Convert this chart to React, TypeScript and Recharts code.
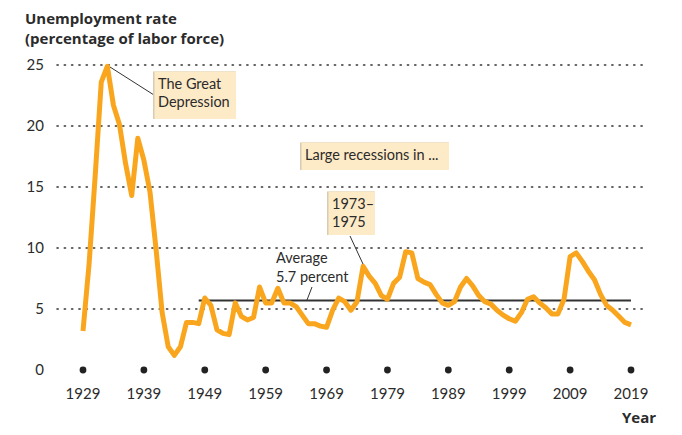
import React from 'react';
import {
    ComposedChart,
    Line,
    Scatter,
    XAxis,
    YAxis,
    ReferenceLine
} from 'recharts';

const years = [
    1929, 1930, 1931, 1932, 1933, 1934, 1935, 1936, 1937, 1938, 1939,
    1940, 1941, 1942, 1943, 1944, 1945, 1946, 1947, 1948, 1949,
    1950, 1951, 1952, 1953, 1954, 1955, 1956, 1957, 1958, 1959,
    1960, 1961, 1962, 1963, 1964, 1965, 1966, 1967, 1968, 1969,
    1970, 1971, 1972, 1973, 1974, 1975, 1976, 1977, 1978, 1979,
    1980, 1981, 1982, 1983, 1984, 1985, 1986, 1987, 1988, 1989,
    1990, 1991, 1992, 1993, 1994, 1995, 1996, 1997, 1998, 1999,
    2000, 2001, 2002, 2003, 2004, 2005, 2006, 2007, 2008, 2009,
    2010, 2011, 2012, 2013, 2014, 2015, 2016, 2017, 2018, 2019
];

const unemployment = [
    3.2, 8.7, 15.9, 23.6, 24.9, 21.7, 20.1, 16.9, 14.3, 19.0, 17.2,
    14.6, 9.9, 4.7, 1.9, 1.2, 1.9, 3.9, 3.9, 3.8, 5.9,
    5.3, 3.3, 3.0, 2.9, 5.5, 4.4, 4.1, 4.3, 6.8, 5.5,
    5.5, 6.7, 5.5, 5.5, 5.2, 4.5, 3.8, 3.8, 3.6, 3.5,
    4.9, 5.9, 5.6, 4.9, 5.6, 8.5, 7.7, 7.1, 6.1, 5.8,
    7.1, 7.6, 9.7, 9.6, 7.5, 7.2, 7.0, 6.2, 5.5, 5.3,
    5.6, 6.8, 7.5, 6.9, 6.1, 5.6, 5.4, 4.9, 4.5, 4.2,
    4.0, 4.7, 5.8, 6.0, 5.5, 5.1, 4.6, 4.6, 5.8, 9.3,
    9.6, 8.9, 8.1, 7.4, 6.2, 5.3, 4.9, 4.4, 3.9, 3.7
];

const averageRate = 5.7;
const averageFrom = 1948;
const yearTicks = [1929, 1939, 1949, 1959, 1969, 1979, 1989, 1999, 2009, 2019];
const rateTicks = [0, 5, 10, 15, 20, 25];
const gridValues = [5, 10, 15, 20, 25];

const FONT = 'Lato, "Open Sans", sans-serif';
const BOLD = '"Open Sans", Lato, sans-serif';
const INK = '#2b2b2b';
const ORANGE = '#f9a61e';
const BOX = '#fdeac6';

const chartData = years.map((year, i) => ({
    year,
    rate: unemployment[i],
    avg: year >= averageFrom ? averageRate : null
}));

const tickDots = yearTicks.map(year => ({ year, zero: 0 }));

const Box = ({ x, y, w, h, lines, lineGap = 18 }: { x: number; y: number; w: number; h: number; lines: string[]; lineGap?: number }) => (
    <g>
        <rect x={x} y={y} width={w} height={h} fill={BOX} />
        <line x1={x + 0.75} y1={y} x2={x + 0.75} y2={y + h} stroke="#d8ccb4" strokeWidth={1.5} />
        <line x1={x} y1={y + 0.5} x2={x + w} y2={y + 0.5} stroke="#efe3cc" strokeWidth={1} />
        {lines.map((t, i) => (
            <text key={i} x={x + 5} y={y + 18 + i * lineGap} fontSize={14.5} fill={INK} fontFamily={FONT}>
                {t}
            </text>
        ))}
    </g>
);

export default function App() {
    return (
        <div style={{ position: 'absolute', left: 0, top: 0, width: 682, height: 435, background: '#fff' }}>
            <ComposedChart
                width={682}
                height={435}
                data={chartData}
                margin={{ top: 65, right: 37, left: 0, bottom: 0 }}
            >
                <XAxis
                    dataKey="year"
                    type="number"
                    domain={[1924.73, 2021.3]}
                    ticks={yearTicks}
                    axisLine={false}
                    tickLine={false}
                    tickMargin={12}
                    height={65}
                    tick={{ fill: INK, fontSize: 15, fontFamily: FONT }}
                    allowDataOverflow
                />
                <YAxis
                    type="number"
                    domain={[0, 25]}
                    ticks={rateTicks}
                    width={57}
                    axisLine={false}
                    tickLine={false}
                    tickMargin={7}
                    tick={{ fill: INK, fontSize: 15, fontFamily: FONT }}
                />
                {gridValues.map(v => (
                    <ReferenceLine
                        key={v}
                        y={v}
                        stroke="#333"
                        strokeWidth={1.6}
                        strokeDasharray="1.2 6.1"
                        strokeLinecap="round"
                    />
                ))}
                <Line
                    dataKey="avg"
                    stroke="#333"
                    strokeWidth={2}
                    dot={false}
                    isAnimationActive={false}
                    connectNulls={false}
                />
                <Line
                    dataKey="rate"
                    stroke={ORANGE}
                    strokeWidth={5}
                    strokeLinejoin="round"
                    dot={false}
                    isAnimationActive={false}
                />
                <Scatter
                    data={tickDots}
                    dataKey="zero"
                    fill="#222"
                    shape={(p: any) => <circle cx={p.cx} cy={p.cy} r={3.4} fill="#222" />}
                    isAnimationActive={false}
                />
            </ComposedChart>
            <svg width={682} height={435} style={{ position: 'absolute', left: 0, top: 0, pointerEvents: 'none' }}>
                <text x={25} y={24} fontSize={15} fontWeight={700} fill={INK} fontFamily={BOLD}>
                    Unemployment rate
                </text>
                <text x={25} y={44} fontSize={15} fontWeight={700} fill={INK} fontFamily={BOLD}>
                    (percentage of labor force)
                </text>
                <text x={622} y={423} fontSize={15} fontWeight={700} fill={INK} fontFamily={BOLD}>
                    Year
                </text>

                <line x1={110} y1={67} x2={154} y2={95} stroke="#333" strokeWidth={1} />
                <Box x={153} y={71} w={83} h={48} lines={['The Great', 'Depression']} />

                <Box x={300} y={142} w={149} h={28} lines={['Large recessions in ...']} />

                <line x1={350} y1={236} x2={363} y2={264} stroke="#333" strokeWidth={1} />
                <Box x={327} y={191} w={48} h={44} lines={['1973–', '1975']} />

                <text x={276} y={263} fontSize={14.5} fill={INK} fontFamily={FONT}>Average</text>
                <text x={276} y={282} fontSize={14.5} fill={INK} fontFamily={FONT}>5.7 percent</text>
                <line x1={312} y1={287} x2={307} y2={300} stroke="#333" strokeWidth={1} />
            </svg>
        </div>
    );
}
